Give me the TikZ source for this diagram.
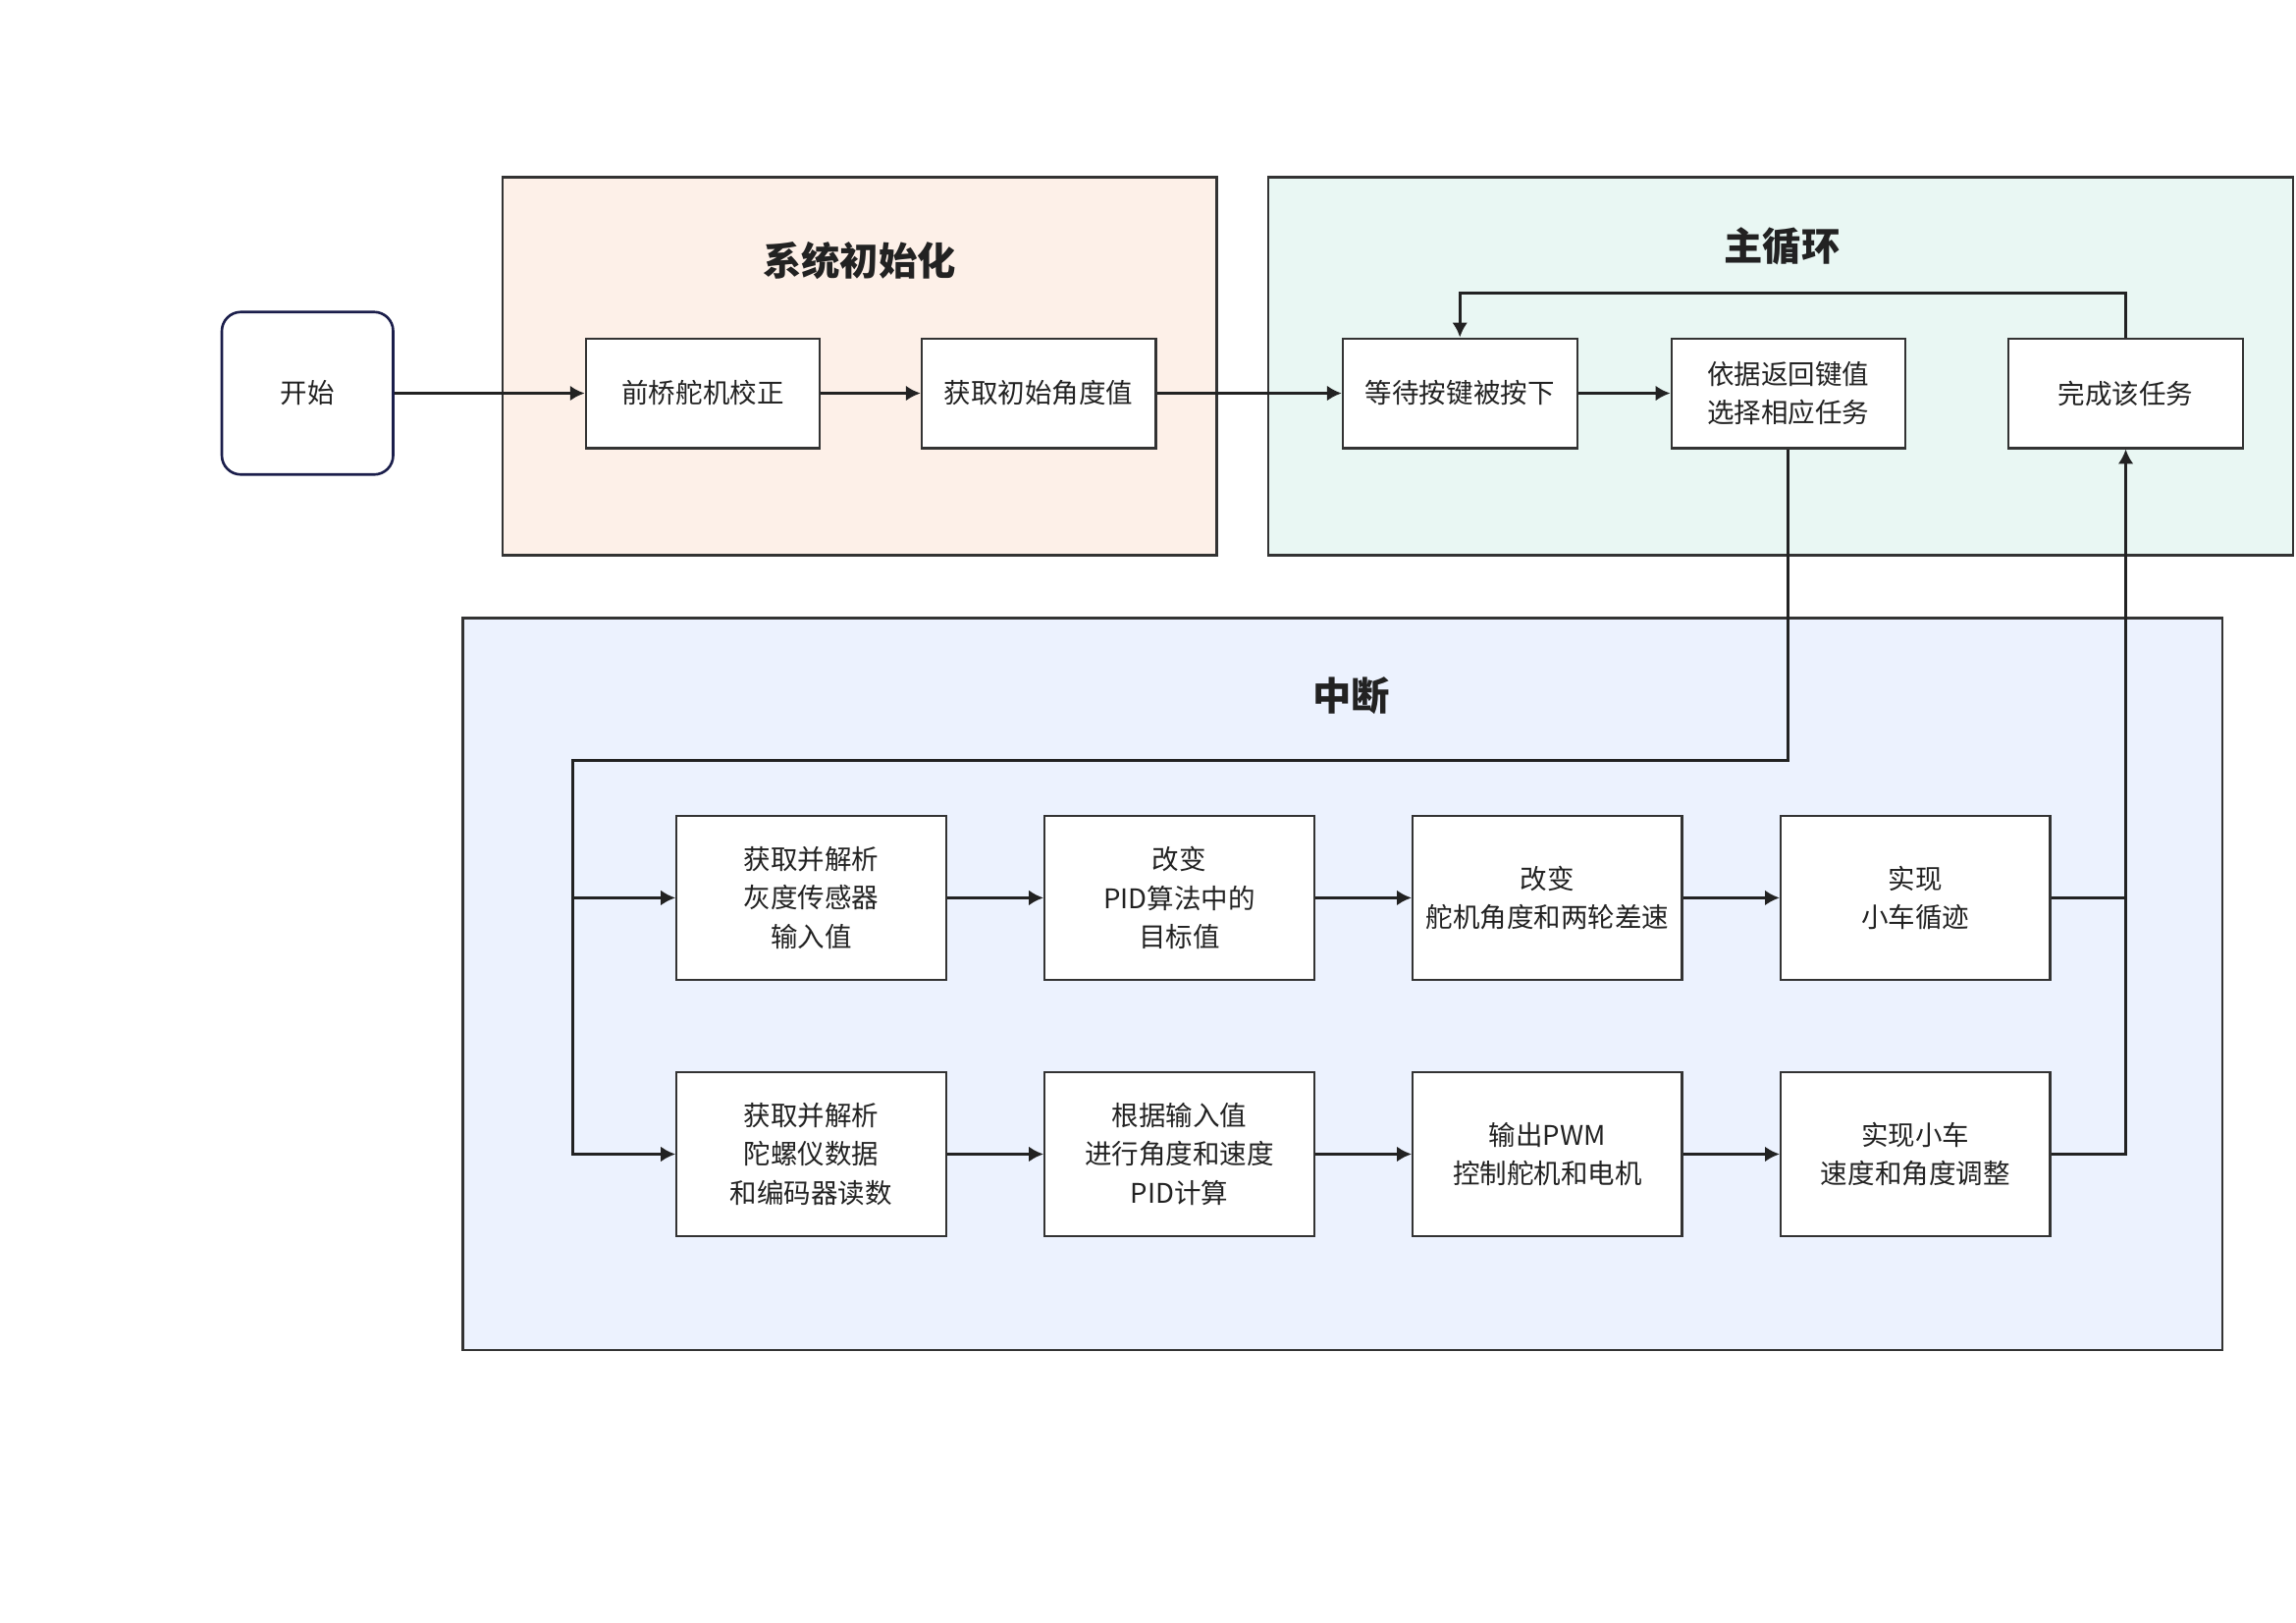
\documentclass[tikz,border=0pt]{standalone}
\usepackage{fontspec}
\setmainfont{Noto Sans CJK SC}
\usepackage{tikz}
\usetikzlibrary{positioning,arrows.meta}
\definecolor{initbg}{HTML}{FDF0E8}
\definecolor{mainbg}{HTML}{E9F7F3}
\definecolor{intbg}{HTML}{ECF2FE}
\definecolor{boxline}{HTML}{333333}
\definecolor{startline}{HTML}{1B1E4B}
\definecolor{linecol}{HTML}{222222}
\begin{document}
\begin{tikzpicture}[x=0.02cm, y=-0.02cm, node distance={1.32cm},
    main/.style = {draw=boxline, line width=0.8pt, fill=white, minimum width=3.2cm, minimum height=1.5cm, inner sep=0pt, align=center, text=linecol, font=\fontsize{10.5}{15}\selectfont},
    big/.style = {main, minimum width=3.68cm, minimum height=2.24cm},
    group/.style = {draw=boxline, line width=0.9pt, inner sep=0pt},
    title/.style = {text=linecol, font=\bfseries\fontsize{15}{18}\selectfont},
    line/.style = {draw=linecol, line width=1.1pt},
    link/.style = {line, -{Latex[length=2mm,width=2.1mm]}}]
            \useasboundingbox (0,0) rectangle (1568,1108);
            \node[group, fill=initbg, minimum width=9.76cm, minimum height=5.16cm] (g1) at (587,250) {};
            \node[group, fill=mainbg, minimum width=14cm, minimum height=5.16cm] (g2) at (1216,250) {};
            \node[group, fill=intbg, minimum width=24.04cm, minimum height=10cm] (g3) at (917,672) {};
            \node[title] (t1) at (587,178) {系统初始化};
            \node[title] (t2) at (1217,168) {主循环};
            \node[title] (t3) at (923,475) {中断};
            \node[main, draw=startline, line width=1pt, rounded corners=0.26cm, minimum width=2.34cm, minimum height=2.22cm] (0) at (210,268.5) {开始};
            \node[main] (1) at (480,268.5) {前桥舵机校正};
            \node[main] (2) [right=1.36cm of 1] {获取初始角度值};
            \node[main] (3) at (997,268.5) {等待按键被按下};
            \node[main] (4) [right=1.26cm of 3] {依据返回键值\\选择相应任务};
            \node[main] (5) [right=1.38cm of 4] {完成该任务};
            \node[big] (6) at (554,613) {获取并解析\\灰度传感器\\输入值};
            \node[big] (7) [right=of 6] {改变\\PID算法中的\\目标值};
            \node[big] (8) [right=of 7] {改变\\舵机角度和两轮差速};
            \node[big] (9) [right=of 8] {实现\\小车循迹};
            \node[big] (10) at (554,788) {获取并解析\\陀螺仪数据\\和编码器读数};
            \node[big] (11) [right=of 10] {根据输入值\\进行角度和速度\\PID计算};
            \node[big] (12) [right=of 11] {输出PWM\\控制舵机和电机};
            \node[big] (13) [right=of 12] {实现小车\\速度和角度调整};
            \coordinate (b) at (391,613);
            \draw[link] (0) -- (1);
            \draw[link] (1) -- (2);
            \draw[link] (2) -- (3);
            \draw[link] (3) -- (4);
            \draw[link] (5.north) -- ++(0,-30) -| (3.north);
            \draw[link] (4.south) |- (391,519) |- (10);
            \draw[link] (b) -- (6);
            \draw[link] (6) -- (7);
            \draw[link] (7) -- (8);
            \draw[link] (8) -- (9);
            \draw[link] (10) -- (11);
            \draw[link] (11) -- (12);
            \draw[link] (12) -- (13);
            \draw[line] (9) -- (9 -| 5);
            \draw[link] (13) -| (5);
        \end{tikzpicture}
\end{document}
